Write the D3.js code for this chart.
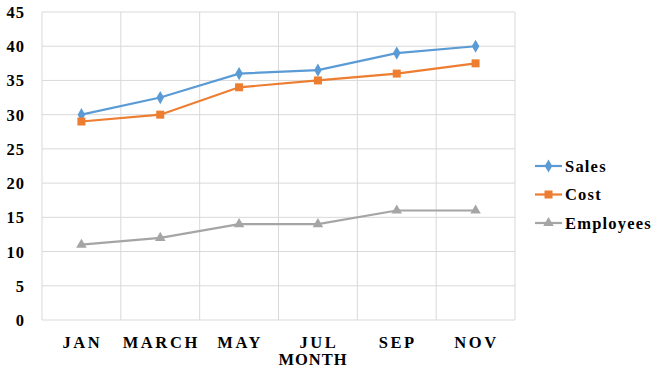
<!DOCTYPE html>
<html>
<head>
<meta charset="utf-8">
<script src="https://cdn.jsdelivr.net/npm/d3@7"></script>
<style>
  body { margin: 0; background: #fff; }
  text { font-family: "Liberation Serif", "Times New Roman", serif; font-weight: bold; fill: #000; }
</style>
</head>
<body>
<svg id="chart" width="658" height="374"></svg>
<script>
var months = ["JAN", "MARCH", "MAY", "JUL", "SEP", "NOV"];
var sales = [30, 32.5, 36, 36.5, 39, 40];
var cost = [29, 30, 34, 35, 36, 37.5];
var employees = [11, 12, 14, 14, 16, 16];
var yTicks = [0, 5, 10, 15, 20, 25, 30, 35, 40, 45];

var series = [
    {name: "Sales", values: sales, color: "#5B9BD5", symbol: d3.symbolDiamond, size: 50},
    {name: "Cost", values: cost, color: "#ED7D31", symbol: d3.symbolSquare, size: 64},
    {name: "Employees", values: employees, color: "#A5A5A5", symbol: d3.symbolTriangle, size: 48}
];

var svg = d3.select("#chart");
var plotLeft = 42, plotRight = 515, plotTop = 12, plotBottom = 320;

var x = d3.scaleBand().domain(months).range([plotLeft, plotRight]);
var y = d3.scaleLinear().domain([0, 45]).range([plotBottom, plotTop]);

// grid
svg.append("g").selectAll("line").data(yTicks).join("line")
    .attr("x1", plotLeft).attr("x2", plotRight)
    .attr("y1", function(d) { return y(d); }).attr("y2", function(d) { return y(d); })
    .attr("stroke", "#d9d9d9").attr("stroke-width", 1);
var bounds = months.map(function(m) { return x(m); }).concat([plotRight]);
svg.append("g").selectAll("line").data(bounds).join("line")
    .attr("x1", function(d) { return d; }).attr("x2", function(d) { return d; })
    .attr("y1", plotTop).attr("y2", plotBottom)
    .attr("stroke", "#d9d9d9").attr("stroke-width", 1);

// y labels
svg.append("g").selectAll("text").data(yTicks).join("text")
    .attr("x", 25).attr("y", function(d) { return y(d) + 6; })
    .attr("text-anchor", "end").style("font-size", "16.5px").style("letter-spacing", "1px")
    .text(function(d) { return d; });

// x labels
svg.append("g").selectAll("text").data(months).join("text")
    .attr("x", function(d) { return x(d) + x.bandwidth() / 2 + 1; }).attr("y", 348)
    .attr("text-anchor", "middle").style("font-size", "16.5px").style("letter-spacing", "2.6px")
    .text(function(d) { return d; });

svg.append("text").attr("x", 313).attr("y", 365)
    .attr("text-anchor", "middle").style("font-size", "16.5px").style("letter-spacing", "1px")
    .text("MONTH");

var line = d3.line()
    .x(function(d, i) { return x(months[i]) + x.bandwidth() / 2; })
    .y(function(d) { return y(d); });

series.forEach(function(s) {
    svg.append("path").datum(s.values)
        .attr("d", line).attr("fill", "none")
        .attr("stroke", s.color).attr("stroke-width", 2.2);
    svg.append("g").selectAll("path").data(s.values).join("path")
        .attr("d", d3.symbol().type(s.symbol).size(s.size))
        .attr("transform", function(d, i) {
            return "translate(" + (x(months[i]) + x.bandwidth() / 2) + "," + y(d) + ")";
        })
        .attr("fill", s.color);
});

// legend
var legend = svg.append("g").selectAll("g").data(series).join("g")
    .attr("transform", function(d, i) { return "translate(535," + (166 + i * 28.5) + ")"; });
legend.append("line").attr("x1", 0).attr("x2", 27)
    .attr("stroke", function(d) { return d.color; }).attr("stroke-width", 2.2);
legend.append("path")
    .attr("d", function(d) { return d3.symbol().type(d.symbol).size(d.size)(); })
    .attr("transform", "translate(13.5,0)")
    .attr("fill", function(d) { return d.color; });
legend.append("text").attr("x", 30).attr("y", 5.5)
    .style("font-size", "16.5px").style("letter-spacing", "1.2px")
    .text(function(d) { return d.name; });
</script>
</body>
</html>
